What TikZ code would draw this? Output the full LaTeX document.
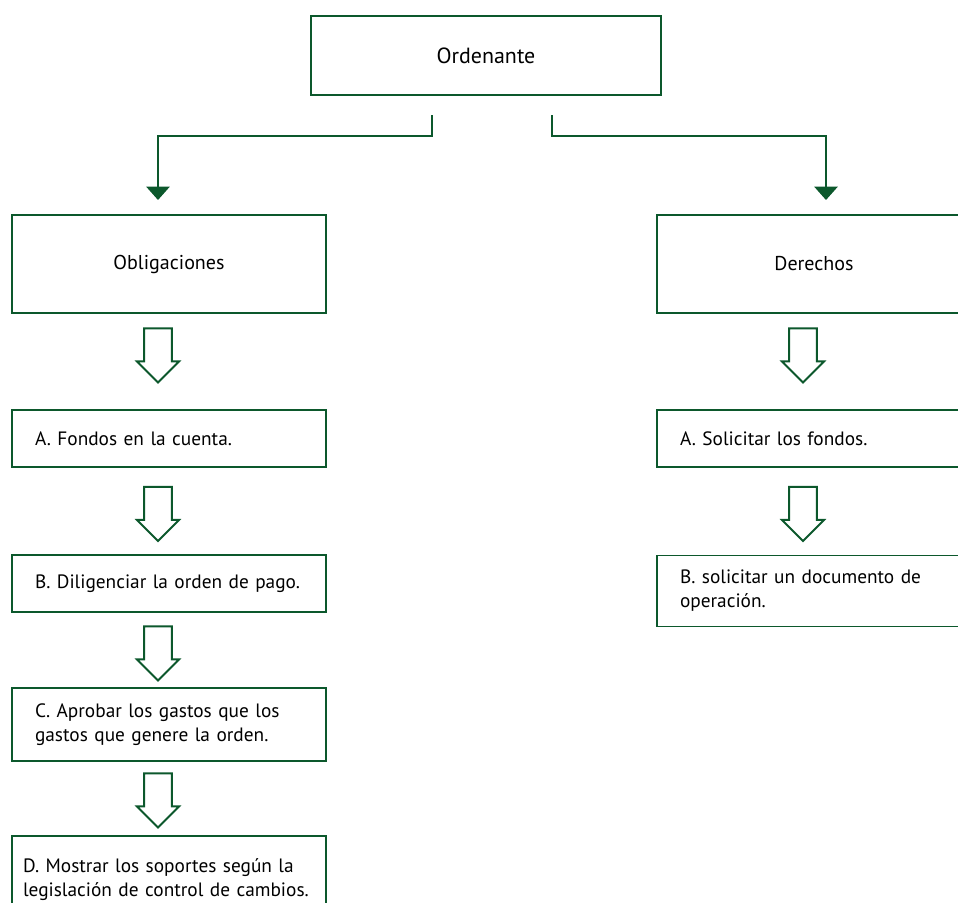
\documentclass[tikz,border=0pt]{standalone}
\usepackage{fontspec}
\setmainfont{PT Sans}
\usetikzlibrary{positioning,arrows.meta,shapes.arrows}
\definecolor{OrdGreen}{RGB}{12,88,44}

\begin{document}
\begin{tikzpicture}[
    x=0.02cm,
    y=-0.02cm,
    font=\fontsize{11.4}{13.8}\selectfont,
    head/.style={
        draw=OrdGreen,
        line width=1.1pt,
        align=center,
        minimum width=6.28cm,
        minimum height=1.96cm
    },
    item/.style={
        draw=OrdGreen,
        line width=1.1pt,
        align=left,
        font=\fontsize{11}{13.6}\selectfont,
        text width=5.36cm,
        inner xsep=0.46cm,
        minimum height=1.14cm
    },
    hollow/.style={
        draw=OrdGreen,
        line width=1.1pt,
        single arrow,
        shape border rotate=270,
        inner sep=0.25cm,
        minimum height=1.08cm,
        minimum width=0.84cm,
        single arrow head extend=0.14cm
    },
    link/.style={-{Triangle[length=0.27cm,width=0.47cm]}, line width=1.1pt, draw=OrdGreen}
]
\useasboundingbox (0,0) rectangle (958,903);

\node[head, minimum width=7cm, minimum height=1.58cm, font=\fontsize{12.5}{15}\selectfont] (ord) at (486,55.5) {Ordenante};

\node[head] (obl) at (169,264) {Obligaciones};
\node[head] (der) at (814,264) {Derechos};

% obligaciones
\node[item] (oa) at (169,438.5) {A. Fondos en la cuenta.};
\node[item] (ob) at (169,583.5) {B. Diligenciar la orden de pago.};
\node[item, minimum height=1.46cm] (oc) at (169,724.5) {C. Aprobar los gastos que los\\gastos que genere la orden.};
\node[item, minimum height=1.76cm, inner xsep=0.22cm, text width=5.84cm] (od) at (169,880)
{D. Mostrar los soportes según la\\legislación de control de cambios.};

% derechos
\node[item] (da) at (814,438.5) {A. Solicitar los fondos.};
\node[item, minimum height=1.42cm] (db) at (814,591) {B. solicitar un documento de\\operación.};

% block arrows
\node[hollow] (obl-oa) at (158,348.5) {};
\node[hollow] (oa-ob) at (158,507) {};
\node[hollow] (ob-oc) at (158,646.5) {};
\node[hollow] (oc-od) at (158,793.5) {};
\node[hollow] (der-da) at (803,348.5) {};
\node[hollow] (da-db) at (803,507) {};

% branches
\coordinate (lstart) at (432,115);
\coordinate (rstart) at (552,115);
\coordinate (ltip) at (158,200);
\coordinate (rtip) at (826,200);
\draw[link] (lstart) -- ++(0,21) -| (ltip);
\draw[link] (rstart) -- ++(0,21) -| (rtip);

\end{tikzpicture}
\end{document}
